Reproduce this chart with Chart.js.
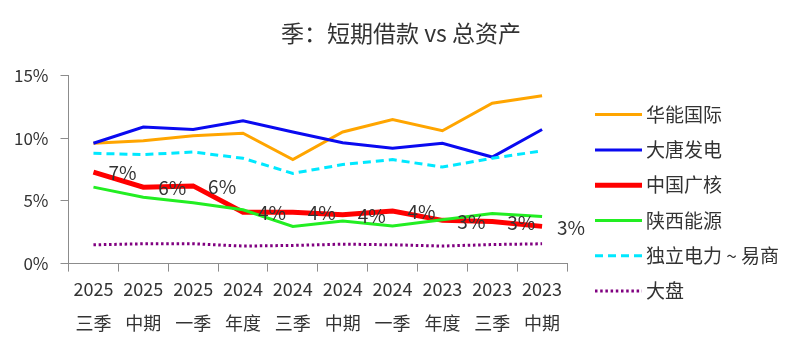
<!DOCTYPE html>
<html><head><meta charset="utf-8">
<script src="https://cdn.jsdelivr.net/npm/chart.js@4/dist/chart.umd.min.js"></script>
<style>html,body{margin:0;padding:0;background:#fff}#wrap{width:800px;height:353px;position:relative}</style>
</head><body><div id="wrap"><canvas id="c"></canvas></div>
<script>
const periodYears = ['2025','2025','2025','2024','2024','2024','2024','2023','2023','2023'];
const periodNames = ['三季','中期','一季','年度','三季','中期','一季','年度','三季','中期'];
const seriesNames = ['华能国际','大唐发电','中国广核','陕西能源','独立电力 ~ 易商','大盘'];
const huaneng = [9.6,9.8,10.2,10.4,8.3,10.5,11.5,10.6,12.8,13.4];
const datang  = [9.6,10.9,10.7,11.4,10.5,9.65,9.2,9.6,8.5,10.7];
const cgn     = [7.3,6.1,6.2,4.1,4.1,3.9,4.2,3.45,3.35,2.97];
const shaanxi = [6.1,5.3,4.85,4.3,2.97,3.4,3.0,3.5,4.0,3.75];
const ipp     = [8.8,8.7,8.9,8.4,7.2,7.9,8.3,7.7,8.4,9.0];
const market  = [1.5,1.58,1.58,1.4,1.45,1.55,1.5,1.4,1.52,1.58];
const yMin = 0, yMax = 15, yStep = 5;

const FONT = '"Noto Sans CJK SC", "Noto Sans", sans-serif';
const TEXT = '#333333';
const AXIS = '#8c8c8c';

const labels = periodYears.map((y,i)=>[y, periodNames[i]]);

const styles = [
  {color:'#FFA500', width:3, dash:[]},
  {color:'#0A0AF0', width:3, dash:[]},
  {color:'#FF0000', width:5, dash:[]},
  {color:'#22EE22', width:3, dash:[]},
  {color:'#00E8FF', width:3, dash:[8,5]},
  {color:'#800080', width:3, dash:[2.5,2.7]}
];
const values = [huaneng, datang, cgn, shaanxi, ipp, market];

const datasets = values.map((v,i)=>({
  label: seriesNames[i],
  data: v,
  borderColor: styles[i].color,
  backgroundColor: styles[i].color,
  borderWidth: styles[i].width,
  borderDash: styles[i].dash,
  pointRadius: 0,
  tension: 0,
  fill: false,
  order: values.length - i
}));

const cgnLabels = {
  id: 'cgnLabels',
  afterDatasetsDraw(chart){
    const meta = chart.getDatasetMeta(2);
    const ctx = chart.ctx;
    ctx.save();
    ctx.font = '19px ' + FONT;
    ctx.fillStyle = TEXT;
    ctx.textAlign = 'center';
    ctx.textBaseline = 'middle';
    meta.data.forEach((pt,i)=>{
      ctx.fillText(Math.round(cgn[i]) + '%', pt.x + 29, pt.y + 1);
    });
    ctx.restore();
  }
};

const sideLegend = {
  id: 'sideLegend',
  afterDraw(chart){
    const ctx = chart.ctx;
    const x0 = chart.chartArea.right + 28, len = 47;
    chart.data.datasets.forEach((ds,i)=>{
      const y = chart.chartArea.top + 39 + i*35.3;
      ctx.save();
      ctx.strokeStyle = ds.borderColor;
      ctx.lineWidth = ds.borderWidth;
      ctx.setLineDash(ds.borderDash || []);
      ctx.beginPath();
      ctx.moveTo(x0, y);
      ctx.lineTo(x0 + len, y);
      ctx.stroke();
      ctx.setLineDash([]);
      ctx.font = '19px ' + FONT;
      ctx.fillStyle = TEXT;
      ctx.textAlign = 'left';
      ctx.textBaseline = 'middle';
      ctx.fillText(ds.label, x0 + len + 4, y);
      ctx.restore();
    });
  }
};

new Chart(document.getElementById('c'), {
  type: 'line',
  data: { labels, datasets },
  options: {
    responsive: true,
    maintainAspectRatio: false,
    animation: false,
    layout: { padding: { left: 2, right: 0, top: 0, bottom: 13 } },
    plugins: {
      legend: { display: false },
      tooltip: { enabled: false },
      title: {
        display: true,
        text: '季：短期借款 vs 总资产',
        color: TEXT,
        font: { family: FONT, size: 23, weight: 'normal' },
        padding: { top: 19, bottom: 29 }
      }
    },
    scales: {
      x: {
        offset: true,
        grid: { display: true, offset: true, drawOnChartArea: false, drawTicks: true, tickLength: 8, color: AXIS },
        border: { display: true, color: AXIS, width: 1 },
        ticks: { color: TEXT, font: { family: FONT, size: 18, lineHeight: 1.9 }, padding: 0, maxRotation: 0, autoSkip: false }
      },
      y: {
        min: yMin, max: yMax,
        grid: { display: true, drawOnChartArea: false, drawTicks: true, tickLength: 8, color: AXIS },
        border: { display: true, color: AXIS, width: 1 },
        ticks: { stepSize: yStep, color: TEXT, font: { family: FONT, size: 17 }, padding: 12, callback: v => v + '%' }
      },
      legendSpace: {
        type: 'linear',
        position: 'right',
        display: true,
        grid: { display: false, drawTicks: false },
        border: { display: false },
        ticks: { display: false },
        afterFit(scale){ scale.width = 233; }
      }
    }
  },
  plugins: [cgnLabels, sideLegend]
});
</script>
</body></html>
